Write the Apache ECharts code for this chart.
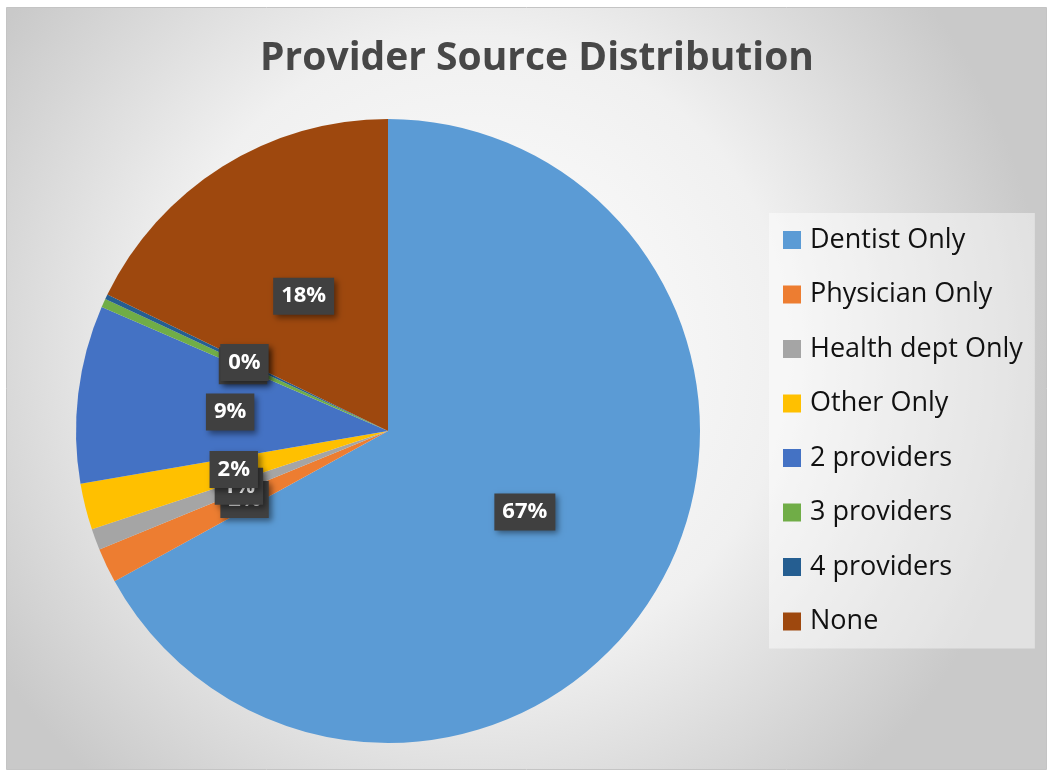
<!DOCTYPE html>
<html>
<head>
<meta charset="utf-8">
<script src="https://cdn.jsdelivr.net/npm/echarts@6/dist/echarts.min.js"></script>
<style>
  html, body { margin: 0; padding: 0; background: #ffffff; }
  #chart { width: 1047px; height: 770px; }
</style>
</head>
<body>
<div id="chart"></div>
<script>
// values (percent of respondents)
let categories = ['Dentist Only', 'Physician Only', 'Health dept Only', 'Other Only',
    '2 providers', '3 providers', '4 providers', 'None']
let shares = [67.0, 1.8, 1.1, 2.4, 9.2, 0.45, 0.25, 17.8]
let colors = ['#5B9BD5', '#ED7D31', '#A5A5A5', '#FFC000', '#4472C4', '#70AD47', '#255E91', '#9E480E']

let total = shares.reduce(function (a, b) { return a + b }, 0)
let font = '"Open Sans", "Noto Sans", sans-serif'

var chart = echarts.init(document.getElementById('chart'))
chart.setOption({
    graphic: [{
        type: 'rect',
        z: -10,
        shape: { x: 6.5, y: 7.5, width: 1040, height: 762 },
        style: {
            fill: new echarts.graphic.RadialGradient(0.45, 0.45, 0.75, [
                { offset: 0, color: '#ffffff' },
                { offset: 0.55, color: '#f0f0f0' },
                { offset: 1, color: '#c9c9c9' }
            ]),
            stroke: '#c4c4c4',
            lineWidth: 1
        }
    }],
    title: {
        text: 'Provider Source Distribution',
        left: 532,
        textAlign: 'center',
        top: 34,
        textStyle: { fontFamily: font, fontSize: 39, fontWeight: 'bold', color: '#474747' }
    },
    legend: {
        orient: 'vertical',
        left: 769,
        top: 213,
        padding: [12, 12, 12, 14],
        backgroundColor: 'rgba(255,255,255,0.45)',
        icon: 'rect',
        itemWidth: 18,
        itemHeight: 18,
        itemGap: 24.5,
        data: categories,
        textStyle: { fontFamily: font, fontSize: 27, color: '#111111', lineHeight: 30, padding: [0, 0, 0, 4] }
    },
    series: [{
        type: 'pie',
        center: [388, 431],
        radius: 312,
        startAngle: 90,
        clockwise: true,
        avoidLabelOverlap: false,
        labelLine: { show: false },
        labelLayout: { hideOverlap: false },
        emphasis: { disabled: true },
        label: {
            show: true,
            position: 'inside',
            formatter: function (p) { return Math.round(p.value / total * 100) + '%' },
            fontFamily: font,
            fontSize: 22,
            fontWeight: 'bold',
            color: '#ffffff',
            backgroundColor: '#404040',
            padding: [8, 8, 7, 8],
            shadowColor: 'rgba(0,0,0,0.45)',
            shadowBlur: 6,
            shadowOffsetX: 3,
            shadowOffsetY: 3
        },
        data: categories.map(function (name, i) {
            return { name: name, value: shares[i], itemStyle: { color: colors[i] } }
        })
    }]
})
</script>
</body>
</html>
